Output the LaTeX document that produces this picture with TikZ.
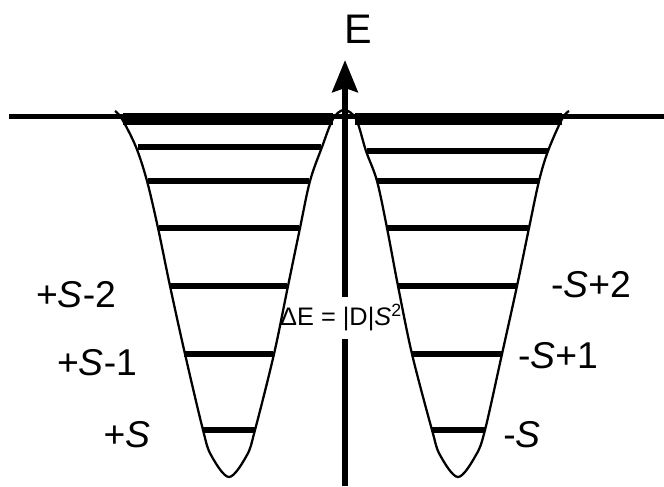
\documentclass[tikz,border=0pt]{standalone}
\usepackage{fontspec}
\setmainfont{Liberation Sans}
\usetikzlibrary{arrows.meta}

\begin{document}
\begin{tikzpicture}[
  x=0.75pt, y=-0.75pt,
  font=\fontsize{28}{32}\selectfont,
  groundline/.style={line width=3.75pt},
  toplevel/.style={line width=9pt},
  level/.style={line width=4.5pt},
  well/.style={line width=1.7pt, line join=round},
  axis/.style={line width=4.5pt},
  lab/.style={inner sep=0pt, anchor=base},
]
  \useasboundingbox (0,0) rectangle (664,486);

  % zero level and the highest (thick) levels
  \draw[groundline] (9,116) -- (664,116);
  \draw[toplevel] (123,119) -- (333,119);
  \draw[toplevel] (355,119) -- (562,119);

  % levels in the left well
  \foreach \y/\a/\b in {147/138/321, 181/148/309, 228/159/299,
                        286/170/287, 354/184/273, 430/203/255}
    \draw[level] (\a,\y) -- (\b,\y);
  % levels in the right well
  \foreach \y/\a/\b in {151/367/548, 181/377/539, 228/387/529,
                        286/398/517, 354/412/502, 430/432/485}
    \draw[level] (\a,\y) -- (\b,\y);

  % double well
  \draw[well] plot[smooth, tension=0.55] coordinates {
    (115,111) (122,119) (136,147) (147,181) (158,228) (170,286)
    (185,354) (203,430) (211,455) (229,477) (247,455) (255,430)
    (274,354) (288,286) (300,228) (310,181) (322,147) (333,119)
    (344,110) (356,119) (366,151) (377,181) (387,228) (398,286)
    (412,354) (432,430) (440,455) (458,477) (476,455) (485,430)
    (502,354) (517,286) (529,228) (539,181) (548,151) (562,119)
    (569,111)};

  % energy axis, broken by the splitting label
  \coordinate (axbot) at (345,486);
  \coordinate (gaplo) at (345,339);
  \coordinate (gaphi) at (345,297);
  \coordinate (axtip) at (345,60);
  \draw[axis] (axbot) -- (gaplo);
  \draw[axis, -{Stealth[length=24pt, width=19pt, inset=3pt]}] (gaphi) -- (axtip);
  \node[lab, font=\fontsize{31}{34}\selectfont] (e) at (358,43) {E};

  \node[lab, font=\fontsize{19}{22}\selectfont] (split) at (341,325)
    {ΔE = |D|\textit{S}\textsuperscript{2}};

  \node[lab] (lp2) at (76,307) {+\textit{S}-2};
  \node[lab] (lp1) at (97,375) {+\textit{S}-1};
  \node[lab] (lp0) at (127,447) {+\textit{S}};
  \node[lab] (rm2) at (591,297) {-\textit{S}+2};
  \node[lab] (rm1) at (558,368) {-\textit{S}+1};
  \node[lab] (rm0) at (522,447) {-\textit{S}};
\end{tikzpicture}
\end{document}
